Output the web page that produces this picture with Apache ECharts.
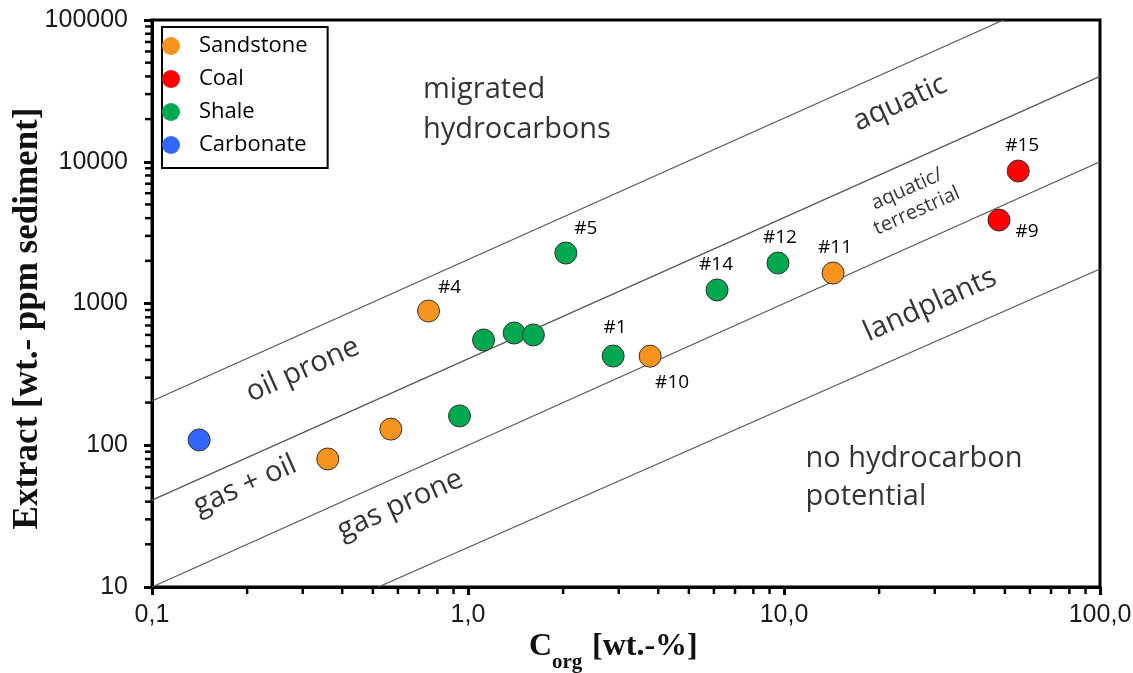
<!DOCTYPE html>
<html>
<head>
<meta charset="utf-8">
<script src="https://cdn.jsdelivr.net/npm/echarts@6/dist/echarts.min.js"></script>
<style>
html,body{margin:0;padding:0;background:#fff;}
#chart{width:1133px;height:673px;}
</style>
</head>
<body>
<div id="chart"></div>
<script>
// ---- data ----
const sandstoneX = [0.36, 0.57, 0.75, 3.77, 14.3];
const sandstoneY = [80, 130, 885, 425, 1640];
const sandstoneLabels = ['', '', '#4', '#10', '#11'];

const coalX = [47.9, 55.1];
const coalY = [3880, 8600];
const coalLabels = ['#9', '#15'];

const shaleX = [0.94, 1.12, 1.40, 1.61, 2.04, 2.88, 6.14, 9.57];
const shaleY = [161, 553, 619, 600, 2270, 426, 1246, 1930];
const shaleLabels = ['', '', '', '', '#5', '#1', '#14', '#12'];

const carbonateX = [0.141];
const carbonateY = [109];
const carbonateLabels = [''];

// boundary lines (end points, Corg / extract)
const lineAX = [0.1, 49.5];   const lineAY = [205, 100000];
const lineBX = [0.1, 100];    const lineBY = [41, 40000];
const lineCX = [0.1, 100];    const lineCY = [10, 10000];
const lineDX = [0.52, 100];   const lineDY = [10, 1750];

// region annotations
const annoText = ['migrated\nhydrocarbons', 'aquatic', 'aquatic/\nterrestrial', 'landplants',
                  'oil prone', 'gas + oil', 'gas prone', 'no hydrocarbon\npotential'];
const annoX = [0.72, 23.3, 25.4, 29, 0.30, 0.197, 0.61, 11.7];
const annoY = [23200, 25900, 5370, 975, 340, 52, 38, 58.7];

// axis ticks
const minorFactors = [2, 3, 4, 5, 6, 7, 8, 9];
const xDecades = [0.1, 1, 10];
const yDecades = [10, 100, 1000, 10000];

// axis titles
const xTitleMain = 'C';
const xTitleSub = 'org';
const xTitleRest = '[wt.-%]';
const yTitle = 'Extract [wt.- ppm sediment]';

// ---- styles ----
const colors = {Sandstone: '#F7941D', Coal: '#FF0000', Shale: '#00A84F', Carbonate: '#3366FF'};
const labelOffsets = {
  '#4': [21, -23], '#10': [22, 26], '#11': [2, -25], '#9': [28, 12], '#15': [4, -25],
  '#5': [20, -24], '#1': [2, -28], '#14': [-1, -25], '#12': [2, -25]
};
const annoStyle = [
  {align: 'left', rotate: 0, size: 29, lh: 40},
  {align: 'center', rotate: 24, size: 29, lh: 34},
  {align: 'center', rotate: 24, size: 20, lh: 24},
  {align: 'center', rotate: 24, size: 29, lh: 34},
  {align: 'center', rotate: 24, size: 29, lh: 34},
  {align: 'center', rotate: 24, size: 29, lh: 34},
  {align: 'center', rotate: 24, size: 29, lh: 34},
  {align: 'left', rotate: 0, size: 29, lh: 38}
];
const FONT = '"Open Sans", "Noto Sans", sans-serif';
const SERIF = '"Liberation Serif", "Times New Roman", serif';

function pts(xs, ys, labels) {
  return xs.map((x, i) => {
    const lab = labels[i];
    return {
      value: [x, ys[i]],
      name: lab,
      label: lab ? {show: true, offset: labelOffsets[lab]} : {show: false}
    };
  });
}
function scatter(name, xs, ys, labels) {
  return {
    name: name, type: 'scatter', z: 5,
    symbol: 'circle', symbolSize: 22,
    itemStyle: {color: colors[name], borderColor: '#333', borderWidth: 1, opacity: 1},
    label: {position: 'inside', formatter: '{b}', color: '#000', fontSize: 19,
            fontFamily: FONT, align: 'center', verticalAlign: 'middle'},
    emphasis: {disabled: true},
    data: pts(xs, ys, labels)
  };
}
function bline(xs, ys) {
  return {
    type: 'line', silent: true, symbol: 'none', z: 2,
    lineStyle: {color: '#555', width: 1.2},
    data: xs.map((x, i) => [x, ys[i]])
  };
}

const xMinor = [], yMinor = [];
xDecades.forEach(d => minorFactors.forEach(f => xMinor.push([d * f, 10])));
yDecades.forEach(d => minorFactors.forEach(f => yMinor.push([0.1, d * f])));

const chart = echarts.init(document.getElementById('chart'));
chart.setOption({
  animation: false,
  backgroundColor: '#fff',
  grid: {left: 152, right: 33, top: 20, bottom: 86, show: true, containLabel: false,
         outerBoundsMode: 'none',
         borderColor: '#000', borderWidth: 3, backgroundColor: 'transparent'},
  legend: {
    data: ['Sandstone', 'Coal', 'Shale', 'Carbonate'],
    orient: 'vertical', left: 162, top: 27,
    padding: [8, 20, 12, 0],
    itemWidth: 30, itemHeight: 18, itemGap: 11,
    icon: 'circle',
    itemStyle: {borderWidth: 0},
    backgroundColor: '#fff', borderColor: '#000', borderWidth: 2,
    textStyle: {fontFamily: FONT, fontSize: 22, color: '#000', lineHeight: 22, padding: [0, 0, 0, 8]},
    selectedMode: false
  },
  xAxis: {
    type: 'log', logBase: 10, min: 0.1, max: 100,
    axisLine: {show: true, onZero: false, lineStyle: {color: '#000', width: 3}},
    axisTick: {show: true, inside: false, length: 8, lineStyle: {color: '#000', width: 3}},
    axisLabel: {margin: 16, fontFamily: '"Liberation Sans", Arial, sans-serif', fontSize: 25, color: '#1a1a1a',
                formatter: v => Number(v).toFixed(1).replace('.', ',')},
    splitLine: {show: false}
  },
  yAxis: {
    type: 'log', logBase: 10, min: 10, max: 100000,
    axisLine: {show: true, onZero: false, lineStyle: {color: '#000', width: 3}},
    axisTick: {show: true, inside: false, length: 8, lineStyle: {color: '#000', width: 3}},
    axisLabel: {margin: 24, fontFamily: '"Liberation Sans", Arial, sans-serif', fontSize: 25, color: '#1a1a1a',
                formatter: v => String(Math.round(v))},
    splitLine: {show: false},
    name: yTitle,
    nameLocation: 'middle', nameGap: 107, nameMoveOverlap: false,
    nameTextStyle: {fontFamily: SERIF, fontWeight: 'bold',
                    fontSize: 35, lineHeight: 35, color: '#111', padding: [0, 30, 0, 0]}
  },
  graphic: [
    {type: 'text', left: 529, top: 631, style: {text: xTitleMain, font: 'bold 32px ' + SERIF, fill: '#111'}},
    {type: 'text', left: 552, top: 652, style: {text: xTitleSub, font: 'bold 21px ' + SERIF, fill: '#111'}},
    {type: 'text', left: 592, top: 631, style: {text: xTitleRest, font: 'bold 32px ' + SERIF, fill: '#111'}}
  ],
  series: [
    bline(lineAX, lineAY), bline(lineBX, lineBY), bline(lineCX, lineCY), bline(lineDX, lineDY),
    {
      type: 'scatter', silent: true, symbolSize: 0, z: 3,
      data: annoText.map((t, i) => ({
        value: [annoX[i], annoY[i]], name: t,
        label: {show: true, position: 'inside', formatter: '{b}', rotate: annoStyle[i].rotate,
                align: annoStyle[i].align, verticalAlign: 'middle',
                fontSize: annoStyle[i].size, lineHeight: annoStyle[i].lh,
                fontFamily: FONT, color: '#000'}
      }))
    },
    scatter('Sandstone', sandstoneX, sandstoneY, sandstoneLabels),
    scatter('Coal', coalX, coalY, coalLabels),
    scatter('Shale', shaleX, shaleY, shaleLabels),
    scatter('Carbonate', carbonateX, carbonateY, carbonateLabels),
    {
      type: 'custom', silent: true, clip: false, z: 6,
      renderItem: (params, api) => {
        const p = api.coord([api.value(0), api.value(1)]);
        return {type: 'line', shape: {x1: p[0], y1: p[1] + 1, x2: p[0], y2: p[1] + 7},
                style: {stroke: '#000', lineWidth: 2.5}};
      },
      data: xMinor
    },
    {
      type: 'custom', silent: true, clip: false, z: 6,
      renderItem: (params, api) => {
        const p = api.coord([api.value(0), api.value(1)]);
        return {type: 'line', shape: {x1: p[0] - 7, y1: p[1], x2: p[0] - 1, y2: p[1]},
                style: {stroke: '#000', lineWidth: 2.5}};
      },
      data: yMinor
    }
  ]
});
</script>
</body>
</html>
